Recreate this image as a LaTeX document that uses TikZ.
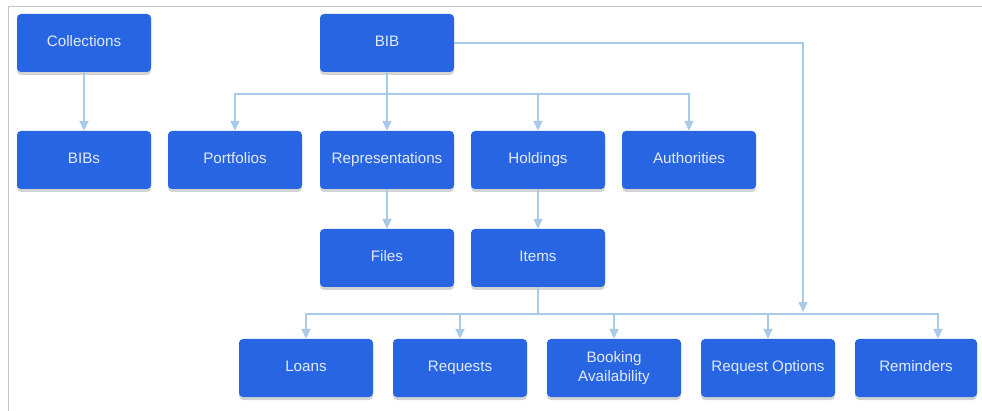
\documentclass[tikz,border=0pt]{standalone}
\usepackage{fontspec}
\setmainfont{Liberation Sans}
\usetikzlibrary{arrows.meta,shadows}
\definecolor{boxblue}{RGB}{40,101,226}
\definecolor{boxtext}{RGB}{226,234,250}
\definecolor{linkblue}{RGB}{168,202,230}
\begin{document}
\begin{tikzpicture}[x=1pt, y=-1pt,
  box/.style={fill=boxblue, rounded corners=4pt, minimum width=134pt, minimum height=58pt,
    text=boxtext, align=center, font=\fontsize{15.2}{19}\selectfont,
    execute at begin node={\vphantom{Ag}},
    drop shadow={shadow xshift=0pt, shadow yshift=-3pt, opacity=0.35, fill=gray}},
  link/.style={draw=linkblue, line width=1.6pt, -{Triangle[width=9pt,length=10pt]}},
  wire/.style={draw=linkblue, line width=1.6pt}]

\useasboundingbox (0,0) rectangle (982,411);
\draw[gray!45, line width=0.8pt] (8,411) -- (8,6) -- (982,6);

% top row
\node[box] (coll) at (84,43) {Collections};
\node[box] (bib) at (387,43) {BIB};

% second row
\node[box] (bibs) at (84,160) {BIBs};
\node[box] (port) at (235,160) {Portfolios};
\node[box] (repr) at (387,160) {Representations};
\node[box] (hold) at (538,160) {Holdings};
\node[box] (auth) at (689,160) {Authorities};

% third row
\node[box] (files) at (387,258) {Files};
\node[box] (items) at (538,258) {Items};

% bottom row
\node[box] (loans) at (306,368) {Loans};
\node[box] (req) at (460,368) {Requests};
\node[box] (book) at (614,368) {Booking\\Availability};
\node[box] (ropt) at (768,368) {Request Options};
\node[box, minimum width=122pt] (rem) at (916,368) {Reminders};

\coordinate (bibbus) at (387,94);
\coordinate (itembus) at (538,314);
\coordinate (optend) at (803,312);

\draw[link] (coll) -- (bibs);
\draw[link] (bib) -- (repr);
\draw[link] (bibbus) -| (port.north);
\draw[link] (bibbus) -| (hold.north);
\draw[link] (bibbus) -| (auth.north);
\draw[link] (bib.east) -| (optend);

\draw[link] (repr) -- (files);
\draw[link] (hold) -- (items);

\draw[wire] (items) -- (itembus);
\draw[link] (itembus) -| (loans.north);
\draw[link] (itembus) -| (req.north);
\draw[link] (itembus) -| (book.north);
\draw[link] (itembus) -| (ropt.north);
\draw[link] (itembus) -| ([xshift=22pt]rem.north);

\end{tikzpicture}
\end{document}
